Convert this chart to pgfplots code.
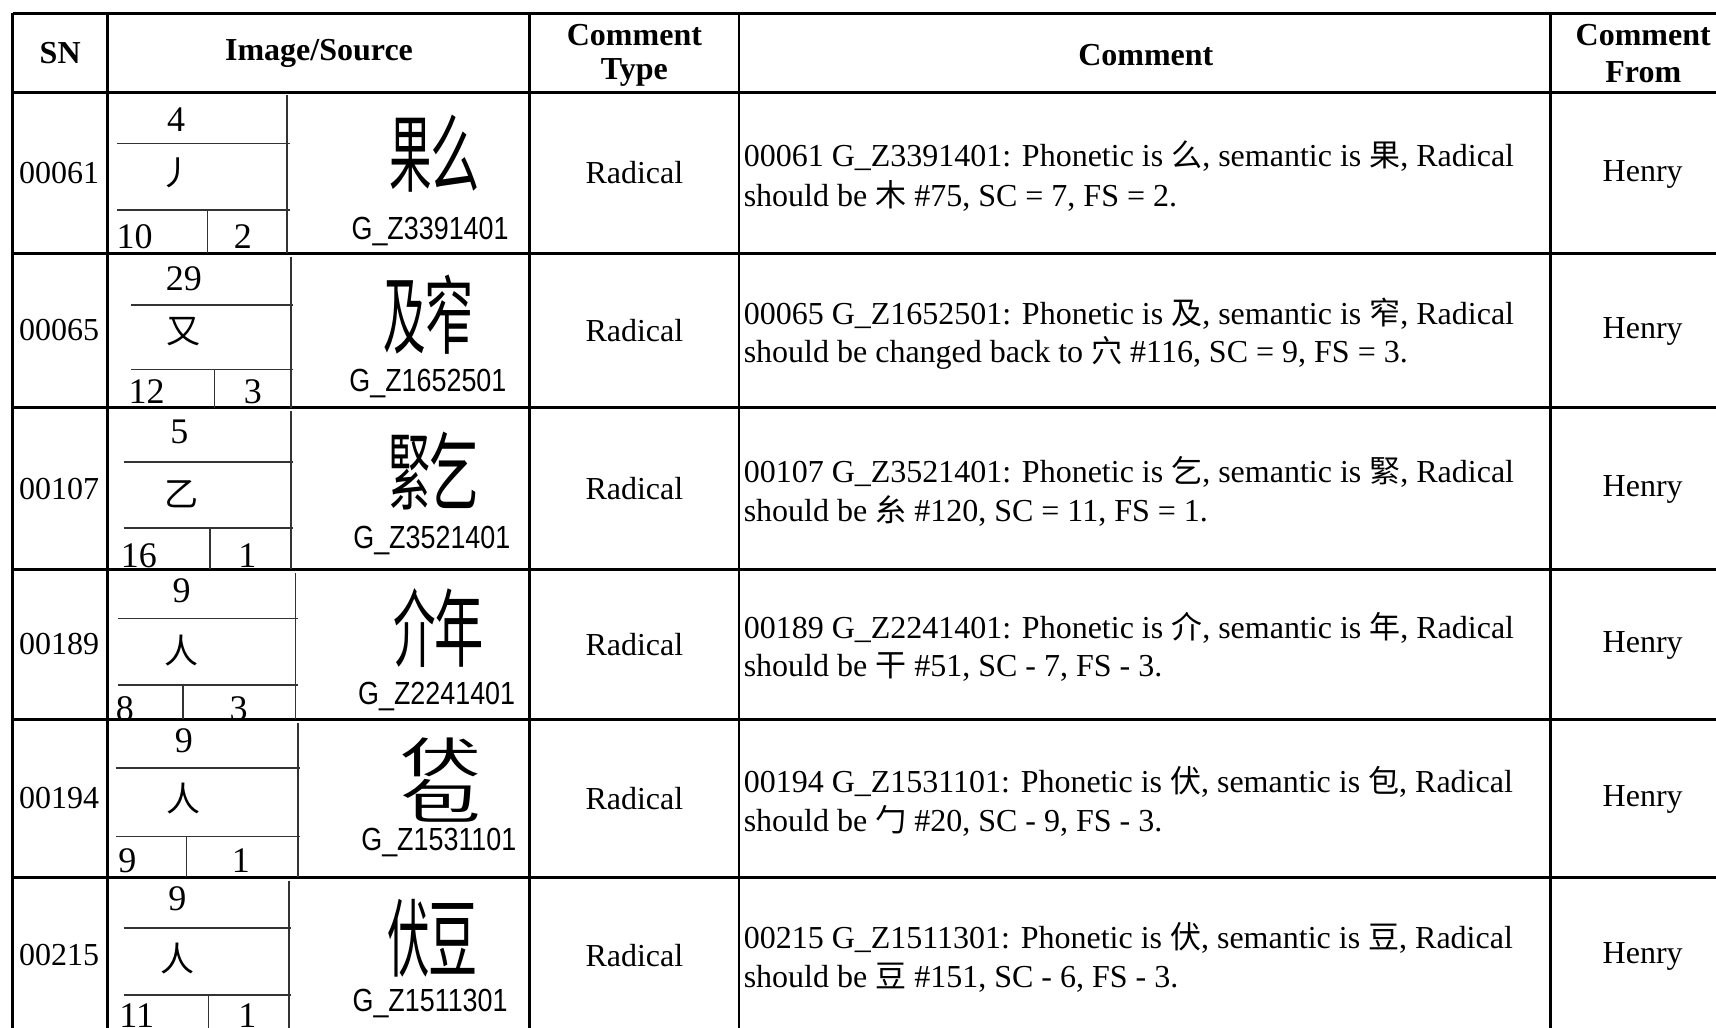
\documentclass[border=0pt]{standalone}
\usepackage{fontspec}
\setmainfont{Liberation Serif}
\newfontfamily\gzfont{Liberation Sans}[FakeStretch=0.84]
\newfontfamily\numfont{Liberation Serif}
\newfontfamily\cjk{Noto Sans CJK SC}
\usepackage{graphicx}
\usepackage{pgfplots}
\pgfplotsset{compat=1.18}

\newcommand\tf{\fontsize{9.6pt}{11.5pt}\selectfont}
\newcommand\cj[1]{{\cjk\fontsize{9.3pt}{11pt}\selectfont #1}}
\newcommand\nf{\numfont\fontsize{10.8pt}{12pt}\selectfont}
\newcommand\rf{\cjk\fontsize{10.2pt}{12pt}\selectfont}
\newcommand\gf{\gzfont\fontsize{9.6pt}{11pt}\selectfont}
\newcommand\bigLR[2]{{\cjk\fontsize{25.5pt}{25.5pt}\selectfont\scalebox{0.5}[1]{#1}\hspace{-0.5pt}\scalebox{0.58}[1]{#2}}}

\tikzset{tx/.style={inner sep=0pt, font=\tf}}

\begin{document}
\begin{tikzpicture}
\begin{axis}[name=ax, scale only axis, width=514.8pt, height=308.4pt,
  xmin=0, xmax=1568, ymin=0, ymax=939.3, y dir=reverse,
  axis lines=none, ticks=none, clip=true]

\newcommand\HL[3]{\addplot[black, line width=0.85pt] coordinates {(#2,#1) (#3,#1)};}
\newcommand\VL[3]{\addplot[black, line width=0.85pt] coordinates {(#1,#2) (#1,#3)};}
\newcommand\hl[3]{\addplot[black!80, line width=0.5pt] coordinates {(#2,#1) (#3,#1)};}
\newcommand\vl[3]{\addplot[black!80, line width=0.5pt] coordinates {(#1,#2) (#1,#3)};}

% main grid
\HL{12.2}{11.6}{1600}
\HL{84.7}{11.6}{1600}
\HL{231.5}{11.6}{1600}
\HL{372.5}{11.6}{1600}
\HL{520.3}{11.6}{1600}
\HL{657.2}{11.6}{1600}
\HL{801.7}{11.6}{1600}
\VL{11.6}{12.2}{960}
\VL{98.4}{12.2}{960}
\VL{484}{12.2}{960}
\VL{675.3}{12.2}{960}
\VL{1417}{12.2}{960}

% sub tables: row 1
\hl{131}{107}{265}\hl{192}{107}{265}\vl{189.5}{192}{231.5}\vl{262.5}{87}{231.5}
% row 2
\hl{278.7}{120}{268}\hl{337.5}{120}{268}\vl{196}{337.5}{372.5}\vl{266}{234.5}{372.5}
% row 3
\hl{422.2}{113}{268}\hl{482.6}{113}{268}\vl{192}{482.6}{520.3}\vl{266}{375.7}{520.3}
% row 4
\hl{565}{108}{272}\hl{626}{108}{272}\vl{167.3}{626}{657.2}\vl{270}{523.6}{657.2}
% row 5
\hl{701.5}{105.6}{274}\hl{764.4}{105.6}{274}\vl{170.3}{764.4}{801.7}\vl{272}{661}{801.7}
% row 6
\hl{847.9}{113}{266}\hl{909}{113}{266}\vl{190.6}{909}{960}\vl{264}{804.7}{960}

% header
\node[tx, font=\tf\bfseries] at (axis cs:55,48.5) {SN};
\node[tx, font=\tf\bfseries] at (axis cs:291.5,48.5) {Image/Source};
\node[tx, font=\tf\bfseries] at (axis cs:579.7,32) {Comment};
\node[tx, font=\tf\bfseries] at (axis cs:579.7,66.5) {Type};
\node[tx, font=\tf\bfseries] at (axis cs:1047,50) {Comment};
\node[tx, font=\tf\bfseries] at (axis cs:1501.5,32) {Comment};
\node[tx, font=\tf\bfseries] at (axis cs:1501.5,66) {From};

% SN, type, from
\node[tx] at (axis cs:54,158.1) {00061};
\node[tx] at (axis cs:54,302) {00065};
\node[tx] at (axis cs:54,446.4) {00107};
\node[tx] at (axis cs:54,588.8) {00189};
\node[tx] at (axis cs:54,729.5) {00194};
\node[tx] at (axis cs:54,873) {00215};
\node[tx] at (axis cs:579.7,158.1) {Radical};
\node[tx] at (axis cs:579.7,302) {Radical};
\node[tx] at (axis cs:579.7,446.4) {Radical};
\node[tx] at (axis cs:579.7,588.8) {Radical};
\node[tx] at (axis cs:579.7,729.5) {Radical};
\node[tx] at (axis cs:579.7,873) {Radical};
\node[tx] at (axis cs:1501,159) {Henry};
\node[tx] at (axis cs:1501,303) {Henry};
\node[tx] at (axis cs:1501,447.4) {Henry};
\node[tx] at (axis cs:1501,589.8) {Henry};
\node[tx] at (axis cs:1501,730.5) {Henry};
\node[tx] at (axis cs:1501,874) {Henry};

% comments
\node[tx, anchor=west] at (axis cs:679,142.6) {00061 G\_Z3391401: Phonetic is \cj{么}, semantic is \cj{果}, Radical};
\node[tx, anchor=west] at (axis cs:679,178.6) {should be \cj{木} \#75, SC = 7, FS = 2.};
\node[tx, anchor=west] at (axis cs:679,286.5) {00065 G\_Z1652501: Phonetic is \cj{及}, semantic is \cj{窄}, Radical};
\node[tx, anchor=west] at (axis cs:679,322.5) {should be changed back to \cj{穴} \#116, SC = 9, FS = 3.};
\node[tx, anchor=west] at (axis cs:679,430.9) {00107 G\_Z3521401: Phonetic is \cj{乞}, semantic is \cj{緊}, Radical};
\node[tx, anchor=west] at (axis cs:679,466.9) {should be \cj{糸} \#120, SC = 11, FS = 1.};
\node[tx, anchor=west] at (axis cs:679,573.3) {00189 G\_Z2241401: Phonetic is \cj{介}, semantic is \cj{年}, Radical};
\node[tx, anchor=west] at (axis cs:679,609.3) {should be \cj{干} \#51, SC - 7, FS - 3.};
\node[tx, anchor=west] at (axis cs:679,714) {00194 G\_Z1531101: Phonetic is \cj{伏}, semantic is \cj{包}, Radical};
\node[tx, anchor=west] at (axis cs:679,750) {should be \cj{勹} \#20, SC - 9, FS - 3.};
\node[tx, anchor=west] at (axis cs:679,857.5) {00215 G\_Z1511301: Phonetic is \cj{伏}, semantic is \cj{豆}, Radical};
\node[tx, anchor=west] at (axis cs:679,893.5) {should be \cj{豆} \#151, SC - 6, FS - 3.};

% sub-table contents
\node[inner sep=0pt, font=\nf] at (axis cs:161,109.6) {4};
\node[inner sep=0pt, font=\rf] at (axis cs:161,158.4) {丿};
\node[inner sep=0pt, font=\nf] at (axis cs:168,254.3) {29};
\node[inner sep=0pt, font=\rf] at (axis cs:168,303) {又};
\node[inner sep=0pt, font=\nf] at (axis cs:164,394.8) {5};
\node[inner sep=0pt, font=\rf] at (axis cs:166,451.5) {乙};
\node[inner sep=0pt, font=\nf] at (axis cs:166,539.4) {9};
\node[inner sep=0pt, font=\rf] at (axis cs:166,594.3) {人};
\node[inner sep=0pt, font=\nf] at (axis cs:168,676.6) {9};
\node[inner sep=0pt, font=\rf] at (axis cs:168,729.7) {人};
\node[inner sep=0pt, font=\nf] at (axis cs:162,821) {9};
\node[inner sep=0pt, font=\rf] at (axis cs:162,876) {人};

\begin{scope}
\clip (axis cs:98.4,192) rectangle (axis cs:484,230.5);
\node[inner sep=0pt, font=\nf] at (axis cs:123,216) {10};
\node[inner sep=0pt, font=\nf] at (axis cs:222,216) {2};
\end{scope}
\begin{scope}
\clip (axis cs:98.4,337.5) rectangle (axis cs:484,371.5);
\node[inner sep=0pt, font=\nf] at (axis cs:134,358) {12};
\node[inner sep=0pt, font=\nf] at (axis cs:231,358) {3};
\end{scope}
\begin{scope}
\clip (axis cs:98.4,482.6) rectangle (axis cs:484,519.3);
\node[inner sep=0pt, font=\nf] at (axis cs:127,508) {16};
\node[inner sep=0pt, font=\nf] at (axis cs:226,508) {1};
\end{scope}
\begin{scope}
\clip (axis cs:98.4,626) rectangle (axis cs:484,656.2);
\node[inner sep=0pt, font=\nf] at (axis cs:114,648) {8};
\node[inner sep=0pt, font=\nf] at (axis cs:218,648) {3};
\end{scope}
\begin{scope}
\clip (axis cs:98.4,764.4) rectangle (axis cs:484,800.7);
\node[inner sep=0pt, font=\nf] at (axis cs:116.4,786.4) {9};
\node[inner sep=0pt, font=\nf] at (axis cs:220,786.4) {1};
\end{scope}
\begin{scope}
\clip (axis cs:98.4,909) rectangle (axis cs:484,939.3);
\node[inner sep=0pt, font=\nf] at (axis cs:125,928) {11};
\node[inner sep=0pt, font=\nf] at (axis cs:226,928) {1};
\end{scope}

% source glyphs and labels
\node[inner sep=0pt] at (axis cs:397,140) {\bigLR{果}{么}};
\node[inner sep=0pt, font=\gf] at (axis cs:393,211.7) {G\_Z3391401};
\node[inner sep=0pt] at (axis cs:392,288) {\bigLR{及}{窄}};
\node[inner sep=0pt, font=\gf] at (axis cs:391,350) {G\_Z1652501};
\node[inner sep=0pt] at (axis cs:396,430) {\bigLR{緊}{乞}};
\node[inner sep=0pt, font=\gf] at (axis cs:394.6,494) {G\_Z3521401};
\node[inner sep=0pt] at (axis cs:401,574) {\bigLR{介}{年}};
\node[inner sep=0pt, font=\gf] at (axis cs:399,636) {G\_Z2241401};
\node[inner sep=0pt] at (axis cs:403,692) {{\cjk\fontsize{25.5pt}{25.5pt}\selectfont\scalebox{0.95}[0.5]{伏}}};
\node[inner sep=0pt] at (axis cs:403,732) {{\cjk\fontsize{25.5pt}{25.5pt}\selectfont\scalebox{0.95}[0.56]{包}}};
\node[inner sep=0pt, font=\gf] at (axis cs:401,770) {G\_Z1531101};
\node[inner sep=0pt] at (axis cs:395.6,857) {\bigLR{伏}{豆}};
\node[inner sep=0pt, font=\gf] at (axis cs:393,917) {G\_Z1511301};

\end{axis}
\pgfresetboundingbox
\path[use as bounding box] (ax.south west) rectangle (ax.north east);
\end{tikzpicture}
\end{document}
